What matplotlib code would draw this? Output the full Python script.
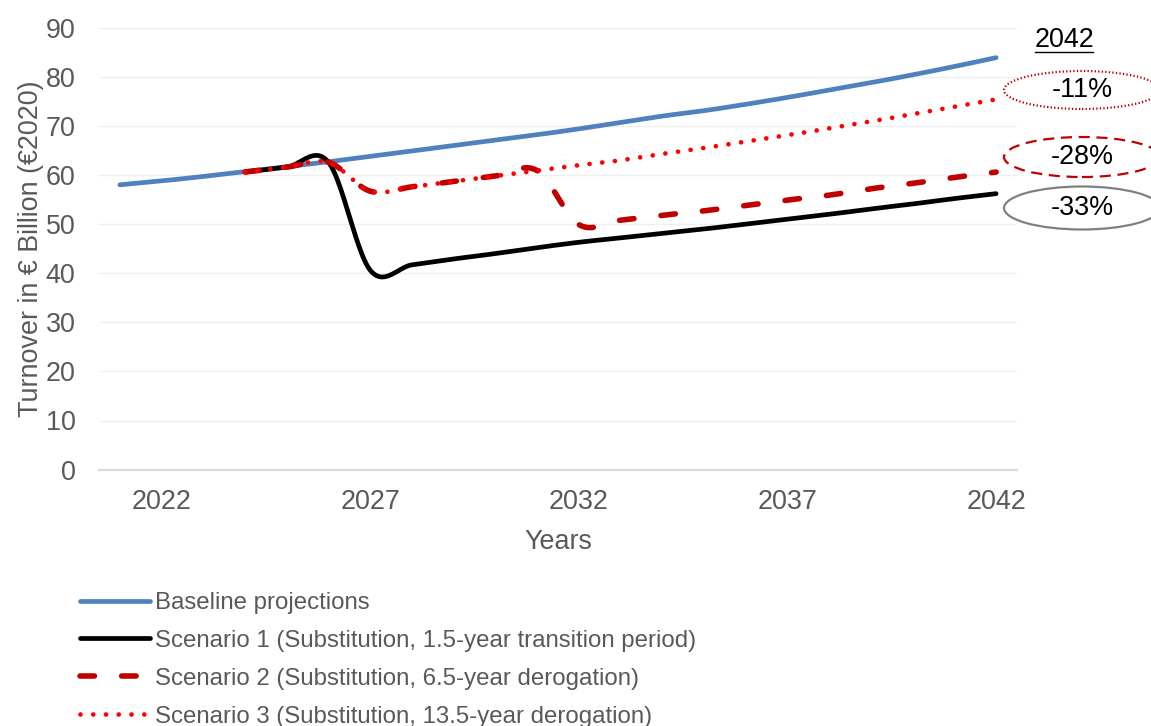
import numpy as np
import matplotlib
matplotlib.use("Agg")
import matplotlib.pyplot as plt
from matplotlib.patches import Ellipse
from matplotlib.lines import Line2D

plt.rcParams["font.family"] = ["Liberation Sans", "DejaVu Sans"]

# ---- data -----------------------------------------------------------------
years_base = list(range(2021, 2043))
baseline = [58.0, 58.8, 59.7, 60.7, 61.7, 62.7, 63.8, 64.9, 66.0, 67.1, 68.2,
            69.4, 70.7, 72.0, 73.1, 74.4, 75.8, 77.3, 78.8, 80.4, 82.1, 83.9]

years_scen = list(range(2024, 2043))
scenario1 = [60.6, 61.6, 62.6, 40.6, 41.7, 42.9, 44.0, 45.2, 46.3, 47.2, 48.1,
             49.0, 50.0, 51.0, 52.0, 53.1, 54.1, 55.2, 56.2]
scenario2 = [60.6, 61.6, 62.6, 56.7, 57.6, 58.7, 59.8, 60.9, 49.9, 50.8, 51.8,
             52.7, 53.8, 54.9, 55.9, 57.2, 58.3, 59.5, 60.6]
scenario3 = [60.6, 61.6, 62.6, 56.7, 57.6, 58.7, 59.8, 60.9, 62.0, 63.0, 64.3,
             65.5, 66.8, 68.1, 69.5, 70.9, 72.4, 73.9, 75.4]

series_labels = ["Baseline projections",
                 "Scenario 1 (Substitution, 1.5-year transition period)",
                 "Scenario 2 (Substitution, 6.5-year derogation)",
                 "Scenario 3 (Substitution, 13.5-year derogation)"]

x_ticks = [2022, 2027, 2032, 2037, 2042]
y_ticks = list(range(0, 91, 10))
change_labels = ["-11%", "-28%", "-33%"]
end_year_label = "2042"


def smooth(xs, ys, n=40):
    """Cardinal (Catmull-Rom) spline through the points, like a smoothed line."""
    xs = np.asarray(xs, float)
    ys = np.asarray(ys, float)
    px = np.concatenate([[xs[0]], xs, [xs[-1]]])
    py = np.concatenate([[ys[0]], ys, [ys[-1]]])
    out_x, out_y = [], []
    for i in range(len(xs) - 1):
        t = np.linspace(0, 1, n, endpoint=(i == len(xs) - 2))
        for p, out in ((px, out_x), (py, out_y)):
            p0, p1, p2, p3 = p[i], p[i + 1], p[i + 2], p[i + 3]
            b1 = p1 + (p2 - p0) / 6.0
            b2 = p2 - (p3 - p1) / 6.0
            out.append((1 - t) ** 3 * p1 + 3 * (1 - t) ** 2 * t * b1
                       + 3 * (1 - t) * t ** 2 * b2 + t ** 3 * p2)
    return np.concatenate(out_x), np.concatenate(out_y)


W, H = 1151, 726
fig = plt.figure(figsize=(W / 100, H / 100), dpi=100)
ax = fig.add_axes([99 / W, (H - 469.6) / H, (1017 - 99) / W, (469.6 - 27.7) / H])

grey_text = "#595959"
blue = "#4F81BD"
dark_red = "#C00000"
red = "#FF0000"
fs = 19.4      # axis text and annotations
fs_leg = 17.3  # legend entries

lw_main = 3.4
bx, by = smooth(years_base, baseline)
ax.plot(bx, by, color=blue, lw=lw_main, solid_capstyle="round",
        label=series_labels[0], zorder=3)
sx, sy = smooth(years_scen, scenario1)
ax.plot(sx, sy, color="black", lw=lw_main, solid_capstyle="round",
        label=series_labels[1], zorder=4)
sx, sy = smooth(years_scen, scenario2)
ax.plot(sx, sy, color=dark_red, lw=4.0, dashes=(2.6, 4.9),
        dash_capstyle="round", label=series_labels[2], zorder=5)
sx, sy = smooth(years_scen, scenario3)
ax.plot(sx, sy, color=red, lw=lw_main, dashes=(0.001, 2.7),
        dash_capstyle="round", label=series_labels[3], zorder=6)

ax.set_xlim(2020.5, 2042.5)
ax.set_ylim(0, 90)
ax.set_xticks(x_ticks)
ax.set_yticks(y_ticks)
ax.tick_params(axis="both", length=0, labelsize=fs, labelcolor=grey_text)
ax.tick_params(axis="x", pad=14)
ax.tick_params(axis="y", pad=17)
ax.grid(axis="y", color="#EFEFEF", lw=1.0, zorder=0)
for side in ("top", "right", "left"):
    ax.spines[side].set_visible(False)
ax.spines["bottom"].set_color("#D9D9D9")
ax.spines["bottom"].set_linewidth(1.6)

ax.set_xlabel("Years", fontsize=fs, color=grey_text, labelpad=10)
ax.set_ylabel("Turnover in \u20ac Billion (\u20ac2020)", fontsize=fs,
              color=grey_text, labelpad=1)

leg = fig.legend(loc="upper left", bbox_to_anchor=(80 / W, 1 - 592 / H),
                 frameon=False, fontsize=fs_leg, handlelength=2.9,
                 handletextpad=0.22, labelspacing=0.66, borderpad=0,
                 borderaxespad=0)
for t in leg.get_texts():
    t.set_color(grey_text)

# ---- end-of-period change markers ------------------------------------------
def fig_xy(px, py):
    return px / W, 1 - py / H

fig.text(*fig_xy(1064, 40), end_year_label, fontsize=fs, color="black",
         ha="center", va="center")
fig.add_artist(Line2D([1035 / W, 1093 / W], [1 - 52 / H, 1 - 52 / H],
                      color="black", lw=1.0))

ellipse_specs = [
    (90, 38, dark_red, (0, (0.6, 1.0)), change_labels[0]),
    (157, 40, dark_red, (0, (5, 3)), change_labels[1]),
    (208, 43, "#808080", "solid", change_labels[2]),
]
for cy, h, col, ls, txt in ellipse_specs:
    cx = 1082
    fig.add_artist(Ellipse(fig_xy(cx, cy), 156 / W, h / H, fill=False,
                           edgecolor=col, lw=1.6, linestyle=ls,
                           transform=fig.transFigure))
    fig.text(*fig_xy(cx, cy), txt, fontsize=fs, color="black",
             ha="center", va="center")

fig.savefig("out.png", dpi=100)
